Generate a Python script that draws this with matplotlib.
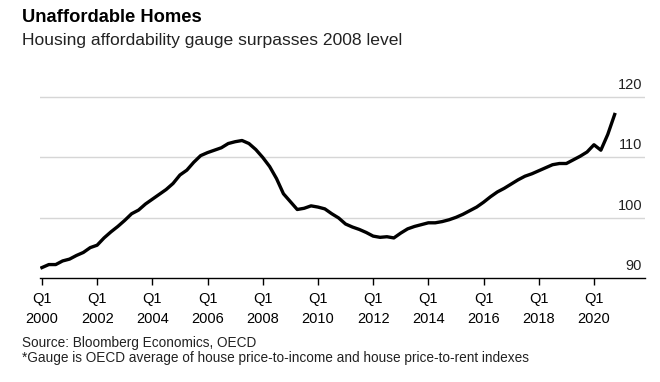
import matplotlib
matplotlib.use("Agg")
import matplotlib.pyplot as plt
import matplotlib.transforms as mtransforms
import numpy as np

plt.rcParams.update({
    "font.family": ["Liberation Sans", "DejaVu Sans"],
    "font.size": 10.5,
})

# Quarterly gauge values, 2000 Q1 .. 2020 Q4
gauge = [
    91.8, 92.3, 92.3, 92.9, 93.2, 93.8, 94.3, 95.1,
    95.5, 96.7, 97.7, 98.6, 99.6, 100.7, 101.3, 102.3,
    103.1, 103.9, 104.7, 105.7, 107.1, 107.9, 109.2, 110.3,
    110.8, 111.2, 111.6, 112.3, 112.6, 112.8, 112.3, 111.3,
    110.0, 108.5, 106.5, 104.0, 102.7, 101.4, 101.6, 102.0,
    101.8, 101.5, 100.7, 100.0, 99.0, 98.5, 98.1, 97.6,
    97.0, 96.8, 96.9, 96.7, 97.5, 98.2, 98.6, 98.9,
    99.2, 99.2, 99.4, 99.7, 100.1, 100.6, 101.2, 101.8,
    102.6, 103.5, 104.3, 104.9, 105.6, 106.3, 106.9, 107.3,
    107.8, 108.3, 108.8, 109.0, 109.0, 109.6, 110.2, 110.9,
    112.1, 111.2, 113.8, 117.1,
]
start_year = 2000
tick_years = list(range(2000, 2021, 2))
y_ticks = [90, 100, 110, 120]

t = start_year + np.arange(len(gauge)) / 4.0

fig = plt.figure(figsize=(6.6, 3.82), dpi=100)
ax = fig.add_axes([0.0606, 0.271, 0.9167, 0.5196])

for v in y_ticks[1:]:
    ax.axhline(v, color="#d6d6d6", linewidth=1.0, zorder=1)

ax.plot(t, gauge, color="black", linewidth=2.4, zorder=3,
        solid_joinstyle="round")

ax.set_xlim(1999.93, 2021.85)
ax.set_ylim(90, 122.8)

for s in ["top", "right", "left"]:
    ax.spines[s].set_visible(False)
ax.spines["bottom"].set_color("black")
ax.spines["bottom"].set_linewidth(1.0)

ax.set_xticks(tick_years)
ax.set_xticklabels([f"Q1\n{y}" for y in tick_years], linespacing=1.5)
ax.tick_params(axis="x", length=5, width=1, color="black", pad=5,
               labelsize=10.5)
ax.set_yticks([])

# y labels sit above gridlines, right-aligned
trans = mtransforms.blended_transform_factory(ax.transAxes, ax.transData)
trans = mtransforms.offset_copy(trans, fig=fig, x=-3, y=5, units="dots")
for v in y_ticks:
    ax.text(1.0, v, str(v), transform=trans, ha="right", va="bottom",
            fontsize=10.5, color="#222222")

fig.text(22 / 660, 1 - 18 / 382, "Unaffordable Homes", fontsize=13.2,
         fontweight="bold", va="center", ha="left")
fig.text(22 / 660, 1 - 41 / 382,
         "Housing affordability gauge surpasses 2008 level",
         fontsize=12.6, va="center", ha="left", color="#222222")

fig.text(22 / 660, 1 - 343 / 382, "Source: Bloomberg Economics, OECD",
         fontsize=9.8, va="center", ha="left", color="#222222")
fig.text(22 / 660, 1 - 358 / 382,
         "*Gauge is OECD average of house price-to-income and house price-to-rent indexes",
         fontsize=9.8, va="center", ha="left", color="#222222")

fig.savefig("out.png", dpi=100)
